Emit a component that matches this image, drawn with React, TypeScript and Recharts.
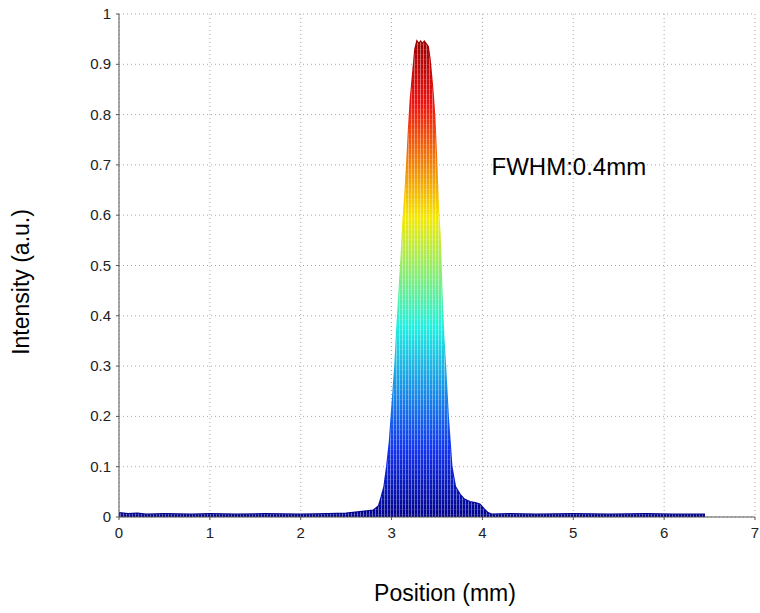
import { ComposedChart, Area, XAxis, YAxis, CartesianGrid, ReferenceDot } from "recharts";

// beam profile
const positions = [
  0, 0.1, 0.2, 0.3, 0.5, 0.8, 1.0, 1.3, 1.6, 2.0, 2.3, 2.5, 2.6, 2.7, 2.8, 2.86, 2.89,
  2.92, 2.95, 2.98, 3.0, 3.02, 3.04, 3.06, 3.08, 3.11, 3.13, 3.15, 3.17, 3.19, 3.21,
  3.24, 3.26, 3.28, 3.3, 3.32, 3.34, 3.36, 3.38, 3.4, 3.42, 3.43, 3.45, 3.47, 3.49,
  3.51, 3.53, 3.55, 3.57, 3.59, 3.62, 3.66, 3.7, 3.75, 3.8, 3.86, 3.92, 3.97, 4.02,
  4.06, 4.1, 4.3, 4.6, 5.0, 5.4, 5.8, 6.1, 6.45,
];
const intensity = [
  0.008, 0.006, 0.007, 0.005, 0.006, 0.005, 0.006, 0.005, 0.006, 0.005, 0.006, 0.007,
  0.009, 0.011, 0.013, 0.022, 0.04, 0.06, 0.1, 0.15, 0.2, 0.25, 0.3, 0.37, 0.43, 0.52,
  0.59, 0.64, 0.7, 0.77, 0.83, 0.89, 0.93, 0.945, 0.94, 0.945, 0.94, 0.945, 0.94,
  0.935, 0.91, 0.89, 0.85, 0.8, 0.72, 0.62, 0.56, 0.45, 0.36, 0.3, 0.2, 0.1, 0.06,
  0.045, 0.035, 0.03, 0.028, 0.025, 0.015, 0.008, 0.005, 0.006, 0.005, 0.006, 0.005,
  0.006, 0.005, 0.005,
];

const xTicks = [0, 1, 2, 3, 4, 5, 6, 7];
const yTicks = [0, 0.1, 0.2, 0.3, 0.4, 0.5, 0.6, 0.7, 0.8, 0.9, 1];

const data = positions.map((x, i) => ({ x, y: intensity[i] }));

const font = "'Liberation Sans', Arial, sans-serif";
const titleStyle = { fontSize: 23, fill: "#000", fontFamily: font };

const XTick = (props: any) => (
  <text x={props.x} y={props.y + 16} textAnchor="middle" fontSize={15} fill="#222" fontFamily={font}>
    {props.payload.value}
  </text>
);

const YTick = (props: any) => (
  <text x={props.x - 3} y={props.y + 5} textAnchor="end" fontSize={15} fill="#222" fontFamily={font}>
    {props.payload.value}
  </text>
);

export default function App() {
  return (
    <div style={{ position: "absolute", left: 0, top: 0, width: 760, height: 613, background: "#fff" }}>
      <ComposedChart
        width={760}
        height={613}
        data={data}
        margin={{ top: 14, right: 5, left: 0, bottom: 0 }}
      >
        <defs>
          <linearGradient id="jet" x1="0" y1="0" x2="0" y2="1">
            <stop offset="0" stopColor="#9a0000" />
            <stop offset="0.13" stopColor="#ee1010" />
            <stop offset="0.37" stopColor="#f5e800" />
            <stop offset="0.6" stopColor="#20f0e0" />
            <stop offset="0.86" stopColor="#1030f0" />
            <stop offset="1" stopColor="#000088" />
          </linearGradient>
          <pattern id="mesh" width="3" height="5" patternUnits="userSpaceOnUse">
            <rect x="0" y="0" width="1" height="5" fill="#fff" opacity="0.4" />
            <rect x="1" y="4" width="2" height="1" fill="#fff" opacity="0.12" />
          </pattern>
        </defs>
        <CartesianGrid stroke="#aaa" strokeDasharray="1 3" />
        <XAxis
          dataKey="x"
          type="number"
          domain={[0, 7]}
          ticks={xTicks}
          tick={<XTick />}
          tickSize={3}
          tickMargin={2}
          stroke="#555"
          height={96}
          label={{
            content: () => (
              <text x={445} y={601} textAnchor="middle" style={titleStyle}>
                Position (mm)
              </text>
            ),
          }}
        />
        <YAxis
          type="number"
          domain={[0, 1]}
          ticks={yTicks}
          tick={<YTick />}
          tickSize={3}
          tickMargin={2}
          stroke="#555"
          width={119}
          label={{
            content: () => (
              <text
                x={29}
                y={282}
                textAnchor="middle"
                transform="rotate(-90 29 282)"
                style={titleStyle}
              >
                Intensity (a.u.)
              </text>
            ),
          }}
        />
        <Area
          type="linear"
          dataKey="y"
          baseValue={0}
          fill="url(#jet)"
          fillOpacity={1}
          stroke="url(#jet)"
          strokeWidth={2}
          isAnimationActive={false}
          dot={false}
          activeDot={false}
        />
        <Area
          type="linear"
          dataKey="y"
          baseValue={0}
          fill="url(#mesh)"
          fillOpacity={1}
          stroke="none"
          isAnimationActive={false}
          dot={false}
          activeDot={false}
        />
        <ReferenceDot
          x={4.1}
          y={0.696}
          r={0}
          fill="none"
          stroke="none"
          label={{
            value: "FWHM:0.4mm",
            position: "right",
            offset: 0,
            style: { fontSize: 24, fill: "#000", fontFamily: font },
          }}
        />
      </ComposedChart>
    </div>
  );
}
